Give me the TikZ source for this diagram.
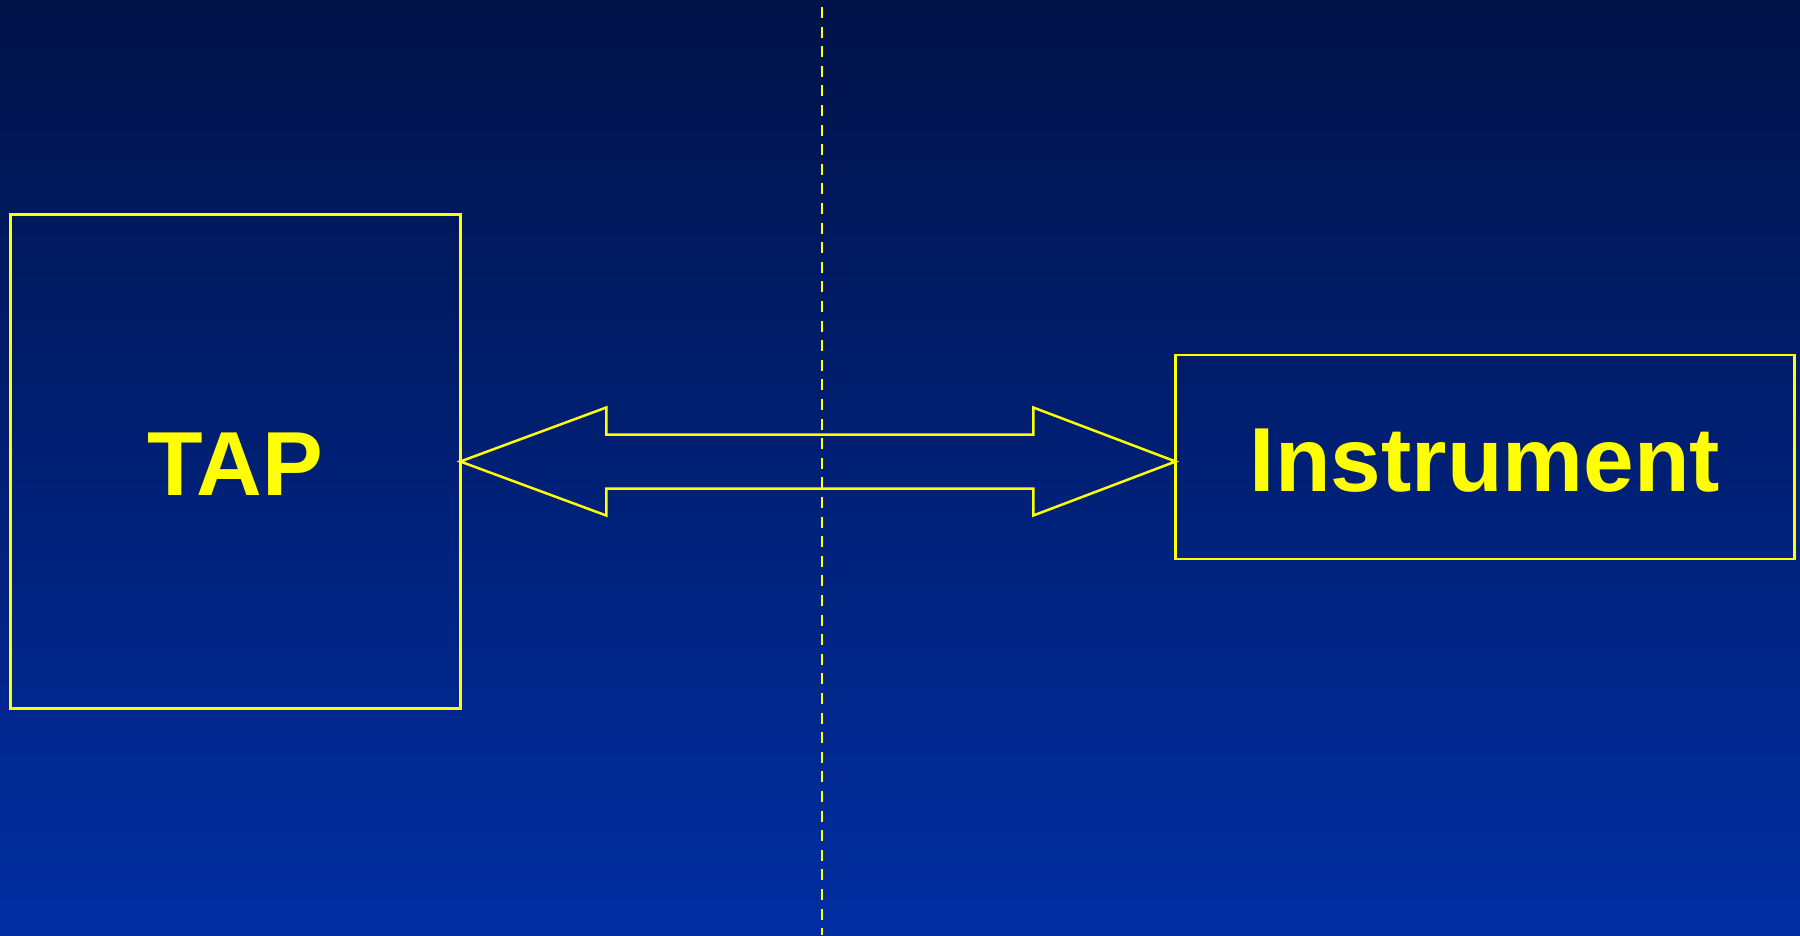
\documentclass[tikz,border=0pt]{standalone}
\usepackage{fontspec}
\setmainfont{Liberation Sans}
\usetikzlibrary{calc,positioning}
\definecolor{navytop}{RGB}{0,18,72}
\definecolor{navybot}{RGB}{0,46,162}
\definecolor{signal}{RGB}{255,255,0}
\tikzset{
  panel/.style={draw=signal, line width=2.5pt, outer sep=0pt, inner sep=0pt, text=signal,
    font=\fontsize{91}{91}\selectfont\bfseries, text height=68pt, text depth=0pt},
  outline/.style={draw=signal, line width=2.5pt, line join=miter},
  divider/.style={draw=signal, line width=2.8pt, dash pattern=on 11pt off 8.6pt},
}
\begin{document}
\begin{tikzpicture}[x=1pt,y=-1pt]
    \shade[top color=navytop, bottom color=navybot] (0,0) rectangle (1800,935);
    \useasboundingbox (0,0) rectangle (1800,935);

    \node[panel, minimum width=450pt, minimum height=493.6pt] (tap) at (235.3,461.5) {TAP};
    \node[panel, minimum width=618.8pt, minimum height=204.4pt] (inst) at (1485,457) {Instrument};

    % two-way link between the boxes
    \coordinate (ltip) at (tap.east);
    \coordinate (rtip) at (tap.east -| inst.west);
    \draw[outline] (ltip) -- ++(146,-54) -- ++(0,27) -- ($(rtip)+(-142.3,-27)$) -- ++(0,-27)
      -- (rtip) -- ++(-142.3,54) -- ++(0,-27) -- ($(ltip)+(146,27)$) -- ++(0,27) -- cycle;

    \coordinate (divtop) at (822,7);
    \coordinate (divbot) at (822,935);
    \draw[divider] (divtop) -- (divbot);
\end{tikzpicture}
\end{document}
